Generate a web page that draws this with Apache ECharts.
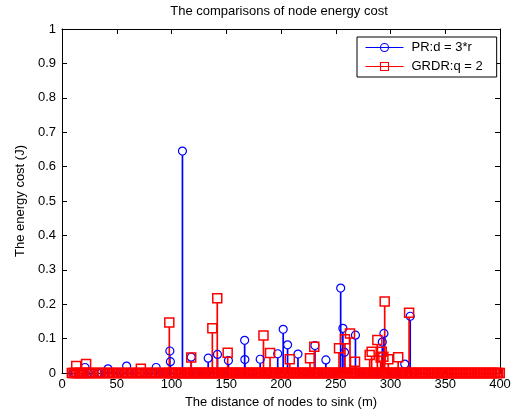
<!DOCTYPE html>
<html>
<head>
<meta charset="utf-8">
<script src="https://cdn.jsdelivr.net/npm/echarts@6/dist/echarts.min.js"></script>
<style>html,body{margin:0;padding:0;background:#fff;}#c{width:519px;height:414px;}</style>
</head>
<body>
<div id="c"></div>
<script>
// ---- data ----
const xTicks = [0, 50, 100, 150, 200, 250, 300, 350, 400];
const yTicks = [0, 0.1, 0.2, 0.3, 0.4, 0.5, 0.6, 0.7, 0.8, 0.9, 1];

// PR:d = 3*r  — nodes with non-zero cost
const prX = [21, 42, 59, 86, 98.5, 99, 110, 118, 133.5, 142, 152, 166.8, 167, 181, 197, 202, 206, 215.5, 231, 241, 254.5, 256.5, 258, 268, 292.5, 294, 313, 318];
const prY = [0.016, 0.012, 0.02, 0.016, 0.064, 0.033, 0.645, 0.046, 0.043, 0.054, 0.036, 0.095, 0.039, 0.04, 0.056, 0.127, 0.082, 0.055, 0.08, 0.038, 0.247, 0.13, 0.06, 0.11, 0.09, 0.115, 0.026, 0.165];
// PR:d = 3*r  — nodes with (near) zero cost
const prZeroX = [10, 12, 15, 17, 19, 24, 26, 29, 33, 36, 40, 45, 49, 53, 57, 62, 66, 71, 75, 79, 83, 88, 92, 95, 102, 105, 108, 113, 116, 121, 124, 127, 131, 136, 139, 145, 148, 155, 158, 162, 170, 174, 178, 185, 188, 193, 199, 210, 213, 219, 223, 227, 234, 238, 244, 248, 251, 262, 265, 271, 275, 279, 284, 287, 297, 301, 305, 309, 316, 321];

// GRDR:q = 2 — nodes with non-zero cost
const grX = [13, 22, 72, 98, 118, 137.3, 141.8, 151.3, 184, 190, 208, 226.5, 230.4, 253, 258.4, 263, 267.6, 281, 282.8, 288, 291, 292, 293.5, 294.7, 298, 307, 317];
const grY = [0.02, 0.026, 0.012, 0.147, 0.045, 0.13, 0.217, 0.059, 0.109, 0.058, 0.04, 0.043, 0.076, 0.072, 0.098, 0.115, 0.033, 0.052, 0.062, 0.096, 0.045, 0.062, 0.047, 0.208, 0.04, 0.046, 0.175];
// GRDR:q = 2 — nodes with (near) zero cost
const grZeroX = [9, 10.5, 12, 14, 15.5, 17, 19, 20.5, 23, 24.5, 26, 28, 31, 33.5,
  35, 37, 39.5, 42, 44, 46.5, 49, 51, 53.5, 56, 58, 60.5, 63, 65, 67.5, 70, 72, 74.5, 77, 79, 81.5, 84, 86, 88.5, 91, 93, 95.5, 97.5, 99,
  100.4, 101.7, 103.1, 104.2, 105.9, 107.3, 108.4, 109.8, 111.5, 112.7, 114.0, 115.6, 116.8, 118.3, 119.9, 121.1, 122.4, 124.0, 125.3, 126.5, 128.2, 129.6, 130.8, 132.3, 133.9, 135.0, 136.6, 137.9, 139.2, 140.8, 142.3, 143.5, 145.0, 146.4, 147.7, 149.3, 150.6, 151.9, 153.5, 154.8, 156.1, 157.7, 159.0, 160.4, 161.9, 163.2, 164.6, 166.0, 167.5, 168.8, 170.2, 171.6, 173.1, 174.3, 175.8, 177.2, 178.5, 180.1, 181.4, 182.7, 184.3, 185.6, 187.0, 188.5, 189.8, 191.2, 192.7, 194.0, 195.4, 196.9, 198.2, 199.6,
  201.0, 202.5, 203.8, 205.2, 206.7, 208.0, 209.4, 210.9, 212.2, 213.6, 215.0, 216.5, 217.8, 219.2, 220.7, 222.0, 223.4, 224.9, 226.2, 227.6, 229.1, 230.5, 231.8, 233.3, 234.6, 236.0, 237.5, 238.8, 240.2, 241.7, 243.0, 244.4, 245.9, 247.2, 248.6, 250.1, 251.4, 252.8, 254.3, 255.6, 257.0, 258.5, 259.8, 261.2, 262.7, 264.0, 265.4, 266.9, 268.2, 269.6, 271.1, 272.4, 273.8, 275.3, 276.6, 278.0, 279.5, 280.8, 282.2, 283.7, 285.0, 286.4, 287.9, 289.2, 290.6, 292.1, 293.4, 294.8, 296.3, 297.6, 299.0,
  300.5, 301.8, 303.2, 304.7, 306.0, 307.4, 308.9, 310.2, 311.6, 313.1, 314.4, 315.8, 317.3, 318.6, 320.0, 321.5, 322.8, 324.2, 325.7, 327.0, 328.4, 329.9, 331.2, 332.6, 334.1, 335.4, 336.8, 338.3, 339.6, 341.0, 342.5, 343.8, 345.2, 346.7, 348.0, 349.4, 350.9, 352.2, 353.6, 355.1, 356.4, 357.8, 359.3, 360.6, 362.0, 363.5, 364.8, 366.2, 367.7, 369.0, 370.4, 371.9, 373.2, 374.6, 376.1, 377.4, 378.8, 380.3, 381.6, 383.0, 384.5, 385.8, 387.2, 388.7, 390.0, 391.4, 392.9, 394.2, 395.6, 397.1, 398.4, 399.8];

// ---- build ----
const BLUE = '#0000ff', RED = '#ff0000';
const FONT = "'Liberation Sans', Arial, sans-serif";
function pts(xs, ys) { return xs.map((x, i) => [x, ys[i]]); }
function zeros(xs) { return xs.map(x => [x, 0]); }
function sortPts(a) { return a.slice().sort((p, q) => p[0] - q[0]); }

const prPts = pts(prX, prY), grPts = pts(grX, grY);
const prAll = sortPts(zeros(prZeroX).concat(prPts));
const grAll = sortPts(zeros(grZeroX).concat(grPts));

function stemSeries(name, data, color, r) {
  return {
    type: 'custom', name: name, data: data, silent: true, clip: false,
    renderItem: function (params, api) {
      const x = api.value(0), y = api.value(1);
      const p0 = api.coord([x, 0]);
      const p1 = api.coord([x, y]);
      return { type: 'line', shape: { x1: p0[0], y1: p0[1], x2: p1[0], y2: p1[1] + r },
               style: { stroke: color, lineWidth: 1.7 } };
    }
  };
}
function markerSeries(name, data, color, symbol, size, bw) {
  return {
    type: 'line', name: name, data: data, symbol: symbol, symbolSize: size,
    showSymbol: true, showAllSymbol: true, clip: false, silent: true,
    lineStyle: { color: color, width: 0 },
    itemStyle: { color: 'rgba(255,255,255,0)', borderColor: color, borderWidth: bw },
    emphasis: { disabled: true }
  };
}

const tickStyle = { inside: true, length: 5, lineStyle: { color: '#000', width: 1 } };
const labelStyle = { color: '#000', fontSize: 13, fontFamily: FONT };

const option = {
  animation: false,
  backgroundColor: '#fff',
  title: {
    text: 'The comparisons of node energy cost', left: 279, top: 5, padding: 0,
    textAlign: 'center',
    textStyle: { color: '#000', fontSize: 13, fontWeight: 'normal', fontFamily: FONT }
  },
  legend: {
    data: ['PR:d = 3*r', 'GRDR:q = 2'],
    orient: 'vertical', left: 357, top: 37, padding: [4, 14, 4, 8],
    itemWidth: 38, itemHeight: 10, itemGap: 6,
    backgroundColor: '#fff', borderColor: '#000', borderWidth: 1, borderRadius: 0,
    textStyle: { color: '#000', fontSize: 13, fontFamily: FONT, padding: [0, 0, 0, 3] },
    lineStyle: { width: 1 },
    itemStyle: { borderWidth: 1.1 },
    selectedMode: false
  },
  grid: { left: 62, right: 19, top: 29, bottom: 41, containLabel: false },
  xAxis: [{
    type: 'value', min: xTicks[0], max: xTicks[xTicks.length - 1], interval: xTicks[1] - xTicks[0],
    name: 'The distance of nodes to sink (m)', nameLocation: 'middle', nameGap: 23,
    nameTextStyle: labelStyle,
    axisLine: { show: true, onZero: false, lineStyle: { color: '#000', width: 1 } },
    axisTick: tickStyle, axisLabel: Object.assign({ margin: 5 }, labelStyle),
    splitLine: { show: false }
  }, {
    type: 'value', position: 'top', min: xTicks[0], max: xTicks[xTicks.length - 1], interval: xTicks[1] - xTicks[0],
    axisLine: { show: true, onZero: false, lineStyle: { color: '#000', width: 1 } },
    axisTick: tickStyle, axisLabel: { show: false }, splitLine: { show: false }
  }],
  yAxis: [{
    type: 'value', min: yTicks[0], max: yTicks[yTicks.length - 1], interval: 0.1,
    name: 'The energy cost (J)', nameLocation: 'middle', nameGap: 25,
    nameTextStyle: labelStyle,
    axisLine: { show: true, onZero: false, lineStyle: { color: '#000', width: 1 } },
    axisTick: tickStyle, axisLabel: Object.assign({ margin: 6 }, labelStyle),
    splitLine: { show: false }
  }, {
    type: 'value', position: 'right', min: yTicks[0], max: yTicks[yTicks.length - 1], interval: 0.1,
    axisLine: { show: true, onZero: false, lineStyle: { color: '#000', width: 1 } },
    axisTick: tickStyle, axisLabel: { show: false }, splitLine: { show: false }
  }],
  series: [
    stemSeries('prStem', prPts, BLUE, 4),
    markerSeries('PR:d = 3*r', prAll, BLUE, 'circle', 8, 1.2),
    stemSeries('grStem', grPts, RED, 4.5),
    markerSeries('GRDR:q = 2', grAll, RED, 'rect', 9, 1.5)
  ]
};

const chart = echarts.init(document.getElementById('c'), null, { renderer: 'canvas' });
chart.setOption(option);
</script>
</body>
</html>
